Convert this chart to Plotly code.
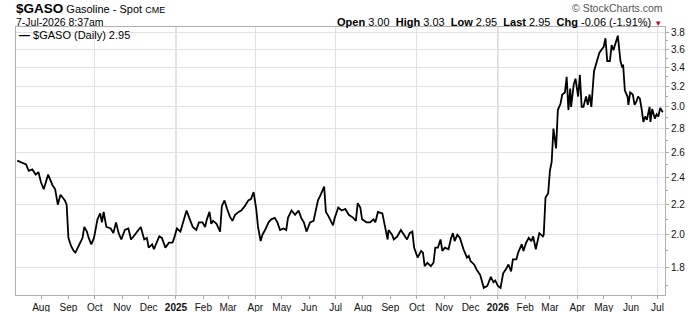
import math
import plotly.graph_objects as go

# ---- data ----
DATES = [
    "2024-07-05", "2024-07-11", "2024-07-15", "2024-07-18", "2024-07-22", "2024-07-26", "2024-07-29",
    "2024-08-01", "2024-08-04", "2024-08-09", "2024-08-14", "2024-08-17", "2024-08-20", "2024-08-23",
    "2024-08-26", "2024-08-28", "2024-08-30", "2024-09-01", "2024-09-04", "2024-09-07", "2024-09-09",
    "2024-09-13", "2024-09-17", "2024-09-19", "2024-09-22", "2024-09-24", "2024-09-27", "2024-09-30",
    "2024-10-04", "2024-10-07", "2024-10-09", "2024-10-11", "2024-10-14", "2024-10-19", "2024-10-22",
    "2024-10-25", "2024-10-28", "2024-10-31", "2024-11-04", "2024-11-08", "2024-11-11", "2024-11-14",
    "2024-11-18", "2024-11-22", "2024-11-26", "2024-11-29", "2024-12-01", "2024-12-05", "2024-12-07",
    "2024-12-13", "2024-12-16", "2024-12-20", "2024-12-24", "2024-12-28", "2024-12-30",
    "2025-01-02", "2025-01-06", "2025-01-10", "2025-01-13", "2025-01-16", "2025-01-20", "2025-01-24",
    "2025-01-27", "2025-01-31", "2025-02-03", "2025-02-05", "2025-02-08", "2025-02-10", "2025-02-12",
    "2025-02-16", "2025-02-20", "2025-02-22", "2025-02-25", "2025-02-28", "2025-03-03", "2025-03-06",
    "2025-03-09", "2025-03-13", "2025-03-16", "2025-03-20", "2025-03-24", "2025-03-27", "2025-03-30",
    "2025-04-02", "2025-04-04", "2025-04-07", "2025-04-09", "2025-04-12", "2025-04-16", "2025-04-19",
    "2025-04-23", "2025-04-26", "2025-04-29", "2025-05-03", "2025-05-06", "2025-05-08", "2025-05-12",
    "2025-05-16", "2025-05-20", "2025-05-23", "2025-05-26", "2025-05-29", "2025-06-02", "2025-06-06",
    "2025-06-09", "2025-06-11", "2025-06-14", "2025-06-18", "2025-06-20", "2025-06-23", "2025-06-28",
    "2025-06-30", "2025-07-04", "2025-07-08", "2025-07-12", "2025-07-16", "2025-07-21", "2025-07-24",
    "2025-07-26", "2025-07-29", "2025-07-31", "2025-08-05", "2025-08-09", "2025-08-13", "2025-08-15",
    "2025-08-18", "2025-08-23", "2025-08-26", "2025-08-29", "2025-08-30", "2025-09-03", "2025-09-05",
    "2025-09-09", "2025-09-13", "2025-09-17", "2025-09-20", "2025-09-23", "2025-09-26", "2025-09-28",
    "2025-10-02", "2025-10-06", "2025-10-08", "2025-10-10", "2025-10-13", "2025-10-17", "2025-10-20",
    "2025-10-22", "2025-10-25", "2025-10-28", "2025-10-30", "2025-11-02", "2025-11-06", "2025-11-09",
    "2025-11-11", "2025-11-13", "2025-11-16", "2025-11-19", "2025-11-23", "2025-11-27", "2025-11-29",
    "2025-12-01", "2025-12-05", "2025-12-08", "2025-12-12", "2025-12-16", "2025-12-20", "2025-12-24",
    "2025-12-27", "2025-12-29",
    "2026-01-01", "2026-01-04", "2026-01-07", "2026-01-11", "2026-01-13", "2026-01-16", "2026-01-18",
    "2026-01-22", "2026-01-24", "2026-01-28", "2026-01-30", "2026-02-02", "2026-02-05", "2026-02-08",
    "2026-02-10", "2026-02-13", "2026-02-17", "2026-02-21", "2026-02-22", "2026-02-24", "2026-02-27",
    "2026-03-01", "2026-03-03", "2026-03-05", "2026-03-08", "2026-03-10", "2026-03-13", "2026-03-15",
    "2026-03-18", "2026-03-20", "2026-03-22", "2026-03-24", "2026-03-25", "2026-03-28", "2026-03-30",
    "2026-04-02", "2026-04-04", "2026-04-06", "2026-04-08", "2026-04-11", "2026-04-13", "2026-04-15",
    "2026-04-17", "2026-04-20", "2026-04-23", "2026-04-26", "2026-04-28", "2026-05-01", "2026-05-03",
    "2026-05-05", "2026-05-08", "2026-05-10", "2026-05-12", "2026-05-15", "2026-05-17", "2026-05-20",
    "2026-05-22", "2026-05-23", "2026-05-25", "2026-05-28", "2026-05-29", "2026-05-31", "2026-06-03",
    "2026-06-05", "2026-06-07", "2026-06-09", "2026-06-11", "2026-06-13", "2026-06-15", "2026-06-17",
    "2026-06-19", "2026-06-22", "2026-06-23", "2026-06-25", "2026-06-28", "2026-06-30", "2026-07-02",
    "2026-07-04", "2026-07-07",
]

PRICES = [
    2.53, 2.51, 2.50, 2.45, 2.46, 2.42, 2.44,
    2.36, 2.31, 2.42, 2.34, 2.31, 2.20, 2.27,
    2.25, 2.23, 2.20, 1.98, 1.93, 1.90, 1.89,
    1.94, 1.98, 2.05, 2.02, 1.98, 1.94, 1.98,
    2.10, 2.14, 2.08, 2.15, 2.05, 2.04, 2.01,
    2.08, 2.01, 1.97, 2.03, 2.04, 1.97, 1.99,
    2.02, 2.05, 1.97, 1.98, 1.92, 1.94, 1.91,
    1.99, 1.98, 1.92, 1.95, 1.95, 1.98,
    2.04, 2.02, 2.10, 2.16, 2.11, 2.05, 2.03,
    2.08, 2.08, 2.05, 2.10, 2.15, 2.07, 2.09,
    2.07, 2.02, 2.19, 2.23, 2.17, 2.12, 2.09,
    2.13, 2.15, 2.16, 2.19, 2.23, 2.24, 2.29,
    2.17, 2.05, 1.96, 2.00, 2.03, 2.08, 2.10,
    2.11, 2.08, 2.03, 2.04, 2.03, 2.11, 2.16,
    2.13, 2.16, 2.11, 2.08, 2.02, 2.08, 2.09,
    2.17, 2.23, 2.27, 2.33, 2.15, 2.12, 2.06,
    2.11, 2.18, 2.16, 2.17, 2.13, 2.11, 2.09,
    2.21, 2.18, 2.10, 2.08, 2.08, 2.10, 2.08,
    2.15, 2.14, 2.05, 1.97, 2.03, 2.00, 1.97,
    1.99, 2.03, 2.00, 1.97, 2.01, 2.02, 1.92,
    1.86, 1.90, 1.89, 1.81, 1.83, 1.81, 1.83,
    1.92, 1.92, 1.97, 1.90, 1.92, 1.91, 1.98,
    2.01, 1.96, 2.00, 1.98, 1.91, 1.86, 1.87,
    1.84, 1.82, 1.79, 1.76, 1.69, 1.70, 1.75,
    1.72, 1.73,
    1.70, 1.69, 1.77, 1.80, 1.82, 1.78, 1.85,
    1.85, 1.89, 1.94, 1.90, 1.95, 1.98, 1.96,
    1.99, 1.91, 2.01, 1.99, 2.00, 2.25, 2.28,
    2.45, 2.52, 2.80, 2.63, 2.97, 3.03, 3.12,
    3.14, 3.30, 2.97, 3.18, 3.00, 3.22, 3.28,
    3.10, 3.32, 3.00, 3.00, 3.10, 3.02, 3.12,
    3.00, 3.36, 3.47, 3.56, 3.59, 3.63, 3.73,
    3.47, 3.47, 3.65, 3.59, 3.70, 3.76, 3.47,
    3.40, 3.43, 3.16, 3.10, 3.02, 3.14, 3.12,
    3.02, 3.05, 3.10, 3.08, 2.98, 2.86, 2.91,
    2.88, 3.00, 2.86, 2.98, 2.89, 2.93, 2.91,
    2.99, 2.95,
]

Y_TICKS = [1.8, 2.0, 2.2, 2.4, 2.6, 2.8, 3.0, 3.2, 3.4, 3.6, 3.8]
Y_MINOR = [1.7, 1.9, 2.1, 2.3, 2.5, 2.7, 2.9, 3.1, 3.3, 3.5, 3.7]
MONTH_TICKS = [
    "2024-08-01", "2024-09-01", "2024-10-01", "2024-11-01", "2024-12-01", "2025-01-01",
    "2025-02-01", "2025-03-01", "2025-04-01", "2025-05-01", "2025-06-01", "2025-07-01",
    "2025-08-01", "2025-09-01", "2025-10-01", "2025-11-01", "2025-12-01", "2026-01-01",
    "2026-02-01", "2026-03-01", "2026-04-01", "2026-05-01", "2026-06-01", "2026-07-01",
]
MONTH_LABELS = [
    "Aug", "Sep", "Oct", "Nov", "Dec", "<b>2025</b>", "Feb", "Mar", "Apr", "May", "Jun", "Jul",
    "Aug", "Sep", "Oct", "Nov", "Dec", "<b>2026</b>", "Feb", "Mar", "Apr", "May", "Jun", "Jul",
]
QUARTER_GRID = ["2024-10-01", "2025-04-01", "2025-07-01", "2025-10-01", "2026-04-01", "2026-07-01"]
YEAR_GRID = ["2025-01-01", "2026-01-01"]
X_RANGE = ["2024-07-03 14:00", "2026-07-09 12:00"]
Y_RANGE = [1.652, 3.865]

FONT = "Liberation Sans, Arial, sans-serif"

fig = go.Figure()
fig.add_trace(go.Scatter(
    x=DATES, y=PRICES, mode="lines",
    line=dict(color="#000000", width=1.8),
    showlegend=False, hoverinfo="x+y",
))

for d in YEAR_GRID:
    fig.add_shape(type="line", xref="x", yref="paper", x0=d, x1=d, y0=0, y1=1,
                  line=dict(color="#c4c4c4", width=1), layer="below")

fig.update_layout(
    width=700, height=312,
    margin=dict(l=16, r=35, t=27, b=17),
    paper_bgcolor="white", plot_bgcolor="white",
    font=dict(family=FONT, size=10, color="#111111"),
    xaxis=dict(
        type="date", range=X_RANGE, automargin=False,
        tickmode="array", tickvals=MONTH_TICKS, ticktext=MONTH_LABELS,
        showgrid=False, ticks="outside", ticklen=3, tickcolor="#aaaaaa",
        showline=True, linecolor="#b0b0b0", linewidth=1, mirror=True,
        tickfont=dict(size=10, color="#111111"), zeroline=False,
        minor=dict(tickmode="array", tickvals=QUARTER_GRID, showgrid=True,
                   gridcolor="#e0e0e0", gridwidth=1, ticks=""),
    ),
    yaxis=dict(
        type="log", side="right", automargin=False,
        range=[math.log10(Y_RANGE[0]), math.log10(Y_RANGE[1])],
        tickmode="array", tickvals=Y_TICKS, ticktext=[f"{v:.1f}" for v in Y_TICKS],
        showgrid=True, gridcolor="#e2e2e2", gridwidth=1,
        ticks="outside", ticklen=3, tickcolor="#aaaaaa",
        showline=True, linecolor="#b0b0b0", linewidth=1, mirror=True,
        tickfont=dict(size=10, color="#111111"), zeroline=False,
        minor=dict(tickmode="array", tickvals=Y_MINOR, ticks="outside", ticklen=2,
                   tickcolor="#aaaaaa", showgrid=False),
    ),
)

PLOT_L, PLOT_W, PLOT_B, PLOT_H = 16, 649, 295, 268


def px(x):
    return (x - PLOT_L) / PLOT_W


def py(y):
    return (PLOT_B - y) / PLOT_H


fig.add_annotation(
    xref="paper", yref="paper", x=px(14), y=py(8), xanchor="left", yanchor="middle",
    text="<b><span style='font-size:13.5px'>$GASO</span></b> Gasoline - Spot <span style='font-size:9px'>CME</span>",
    showarrow=False, font=dict(family=FONT, size=11, color="#000000"),
)
fig.add_annotation(
    xref="paper", yref="paper", x=px(14), y=py(22.5), xanchor="left", yanchor="middle",
    text="7-Jul-2026 8:37am", showarrow=False,
    font=dict(family=FONT, size=10.5, color="#000000"),
)
fig.add_annotation(
    xref="paper", yref="paper", x=px(665), y=py(8), xanchor="right", yanchor="middle",
    text="© StockCharts.com", showarrow=False,
    font=dict(family=FONT, size=10.5, color="#555555"),
)
fig.add_annotation(
    xref="paper", yref="paper", x=px(664), y=py(22.5), xanchor="right", yanchor="middle",
    text=("<b>Open</b> 3.00  <b>High</b> 3.03  <b>Low</b> 2.95  <b>Last</b> 2.95  "
          "<b>Chg</b> -0.06 (-1.91%) <span style='color:#a3142e;font-size:8px'>▼</span>"),
    showarrow=False, font=dict(family=FONT, size=11, color="#000000"),
)
fig.add_annotation(
    xref="paper", yref="paper", x=px(17), y=py(35), xanchor="left", yanchor="middle",
    text="<b>—</b> $GASO (Daily) 2.95", showarrow=False,
    font=dict(family=FONT, size=11, color="#000000"),
)

fig.write_html("out.html")
